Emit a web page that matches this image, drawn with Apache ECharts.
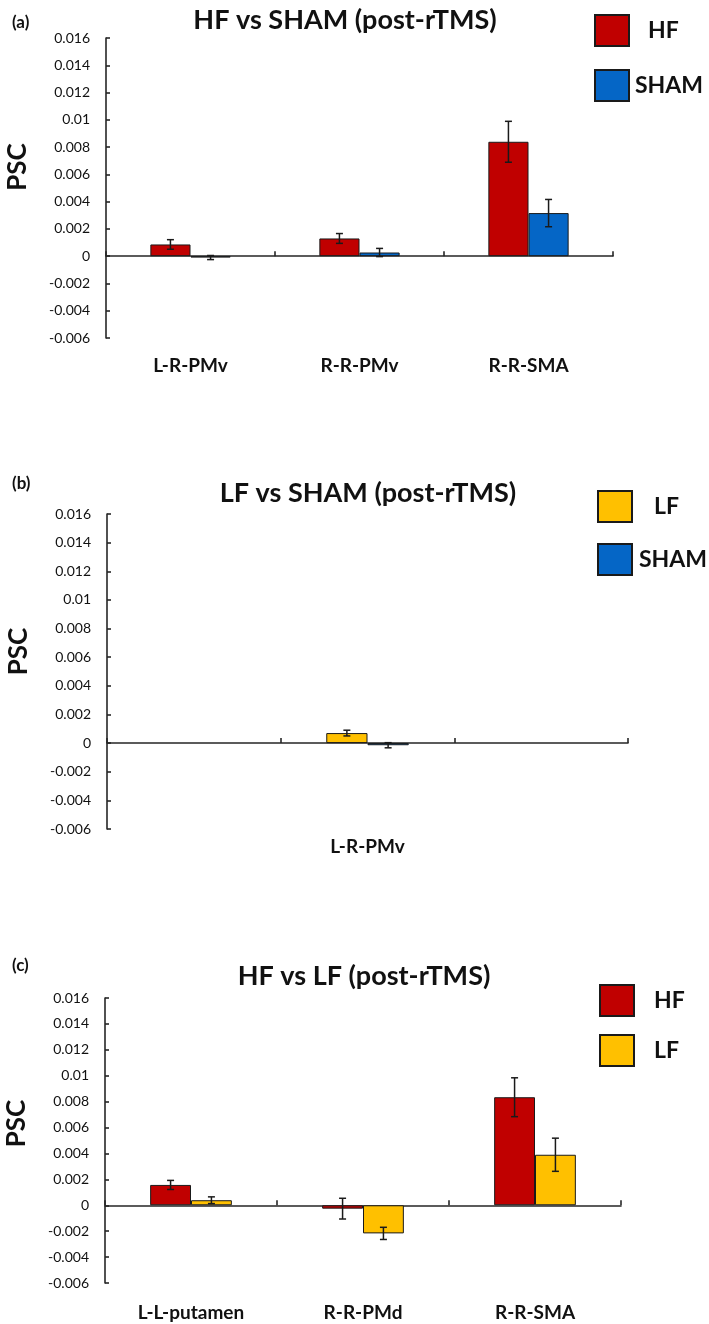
<!DOCTYPE html>
<html>
<head>
<meta charset="utf-8">
<script src="https://cdn.jsdelivr.net/npm/echarts@6/dist/echarts.min.js"></script>
<style>
html,body{margin:0;padding:0;background:#fff;}
#main{width:709px;height:1324px;}
</style>
</head>
<body>
<div id="main"></div>
<script>
// ---------- DATA ----------
const Y_MIN = -0.006, Y_MAX = 0.016, Y_STEP = 0.002;

const catsA = ['L-R-PMv', 'R-R-PMv', 'R-R-SMA'];
const hfA = [0.00086, 0.0013, 0.00839];
const hfAErr = [0.00035, 0.00036, 0.0015];
const shamA = [-0.0001, 0.00027, 0.00316];
const shamAErr = [0.00015, 0.0003, 0.001];

const catsB = ['', 'L-R-PMv', ''];
const lfB = [null, 0.0007, null];
const lfBErr = [null, 0.0002, null];
const shamB = [null, -0.00015, null];
const shamBErr = [null, 0.00018, null];

const catsC = ['L-L-putamen', 'R-R-PMd', 'R-R-SMA'];
const hfC = [0.00157, -0.00026, 0.00834];
const hfCErr = [0.00035, 0.0008, 0.0015];
const lfC = [0.00039, -0.00217, 0.0039];
const lfCErr = [0.00026, 0.00047, 0.00128];

const titles = ['HF vs SHAM (post-rTMS)', 'LF vs SHAM (post-rTMS)', 'HF vs LF (post-rTMS)'];
const panelTags = ['(a)', '(b)', '(c)'];

// ---------- STYLE ----------
const RED = '#C00000', BLUE = '#0566C6', YELLOW = '#FFC000';
const AX = '#262626';
const FONT = 'Lato';
const GAP = 0.525;

const grids = [
  {left: 106, right: 96, top: 38, height: 300, outerBoundsMode: 'none', containLabel: false},
  {left: 107, right: 81, top: 514, height: 315, outerBoundsMode: 'none', containLabel: false},
  {left: 105, right: 88, top: 998, height: 285, outerBoundsMode: 'none', containLabel: false}
];
const labelMargins = [18, 8, 20];
const nameShift = [42, 40, 34];

function fmt(v) { return String(parseFloat(v.toFixed(4))); }

const xAxes = [catsA, catsB, catsC].map((cats, i) => ({
  type: 'category', gridIndex: i, data: cats,
  axisLine: {onZero: true, lineStyle: {color: AX, width: 1.6}},
  axisTick: {show: true, inside: true, length: 5, lineStyle: {color: AX, width: 1.6}},
  axisLabel: {margin: labelMargins[i], color: '#111', fontFamily: FONT, fontWeight: 'bold', fontSize: 19}
}));

const yAxes = [0, 1, 2].map(i => ({
  type: 'value', gridIndex: i, min: Y_MIN, max: Y_MAX, interval: Y_STEP,
  name: 'PSC', nameLocation: 'middle', nameGap: 75, nameRotate: 90,
  nameTextStyle: {fontFamily: FONT, fontWeight: 'bold', fontSize: 26, color: '#111', padding: [0, 0, 0, nameShift[i]]},
  axisLine: {show: true, lineStyle: {color: AX, width: 1.6}},
  axisTick: {show: true, inside: true, length: 4, lineStyle: {color: AX, width: 1.6}},
  splitLine: {show: false},
  axisLabel: {formatter: fmt, color: '#111', fontFamily: FONT, fontSize: 14, margin: 16}
}));

function barSeries(name, data, color, idx) {
  return {
    type: 'bar', name: name, data: data, xAxisIndex: idx, yAxisIndex: idx,
    barGap: '0%', barCategoryGap: (GAP * 100) + '%',
    itemStyle: {color: color, borderColor: '#1a1a1a', borderWidth: 1},
    emphasis: {disabled: true}
  };
}

function errSeries(vals, errs, idx, pos) {
  const d = vals.map((v, k) => (v == null ? null : [k, v, errs[k]])).filter(x => x);
  return {
    type: 'custom', xAxisIndex: idx, yAxisIndex: idx, data: d, z: 10, silent: true,
    renderItem: function (params, api) {
      const k = api.value(0), v = api.value(1), e = api.value(2);
      const catW = api.size([1, 0])[0];
      const bw = catW * (1 - GAP) / 2;
      const c = api.coord([k, v]);
      const x = c[0] + (pos - 0.5) * bw;
      const yTop = api.coord([k, v + e])[1];
      const yBot = api.coord([k, v - e])[1];
      const hw = 3.5;
      const st = {stroke: '#1a1a1a', lineWidth: 1.5};
      return {type: 'group', children: [
        {type: 'line', shape: {x1: x, y1: yTop, x2: x, y2: yBot}, style: st},
        {type: 'line', shape: {x1: x - hw, y1: yTop, x2: x + hw, y2: yTop}, style: st},
        {type: 'line', shape: {x1: x - hw, y1: yBot, x2: x + hw, y2: yBot}, style: st}
      ]};
    }
  };
}

const series = [
  barSeries('HF', hfA, RED, 0), barSeries('SHAM', shamA, BLUE, 0),
  errSeries(hfA, hfAErr, 0, 0), errSeries(shamA, shamAErr, 0, 1),
  barSeries('LF', lfB, YELLOW, 1), barSeries('SHAM', shamB, BLUE, 1),
  errSeries(lfB, lfBErr, 1, 0), errSeries(shamB, shamBErr, 1, 1),
  barSeries('HF', hfC, RED, 2), barSeries('LF', lfC, YELLOW, 2),
  errSeries(hfC, hfCErr, 2, 0), errSeries(lfC, lfCErr, 2, 1)
];

function legendText(pads) {
  const rich = {};
  Object.keys(pads).forEach(k => {
    rich[k] = {fontFamily: FONT, fontWeight: 'bold', fontSize: 23, color: '#111', padding: [0, 0, 0, pads[k]]};
  });
  return rich;
}
function makeLegend(left, top, gap, names, pads) {
  return {
    orient: 'vertical', icon: 'rect', itemWidth: 34, itemHeight: 31, itemGap: gap,
    left: left, top: top, data: names, selectedMode: false,
    formatter: n => '{' + n + '|' + n + '}',
    textStyle: {fontFamily: FONT, fontWeight: 'bold', fontSize: 23, color: '#111', rich: legendText(pads)}
  };
}
const legends = [
  makeLegend(589, 9, 22, ['HF', 'SHAM'], {HF: 14, SHAM: 1}),
  makeLegend(592, 485, 20, ['LF', 'SHAM'], {LF: 17, SHAM: 2}),
  makeLegend(594, 979, 17, ['HF', 'LF'], {HF: 15, LF: 15})
];

const titleCenters = [340, 363, 359];
const titleTops = [2, 475, 958];
const tagTops = [9, 470, 952];
const titleArr = [];
titles.forEach((t, i) => titleArr.push({
  text: t, left: titleCenters[i], top: titleTops[i], textAlign: 'center',
  textStyle: {fontFamily: FONT, fontWeight: 'bold', fontSize: 27, color: '#111'}
}));
panelTags.forEach((t, i) => titleArr.push({
  text: t, left: 7, top: tagTops[i],
  textStyle: {fontFamily: FONT, fontWeight: 'bold', fontSize: 17, color: '#111'}
}));

const chart = echarts.init(document.getElementById('main'), null, {renderer: 'canvas'});
chart.setOption({
  backgroundColor: '#fff',
  animation: false,
  title: titleArr,
  legend: legends,
  grid: grids,
  xAxis: xAxes,
  yAxis: yAxes,
  series: series
});
</script>
</body>
</html>
